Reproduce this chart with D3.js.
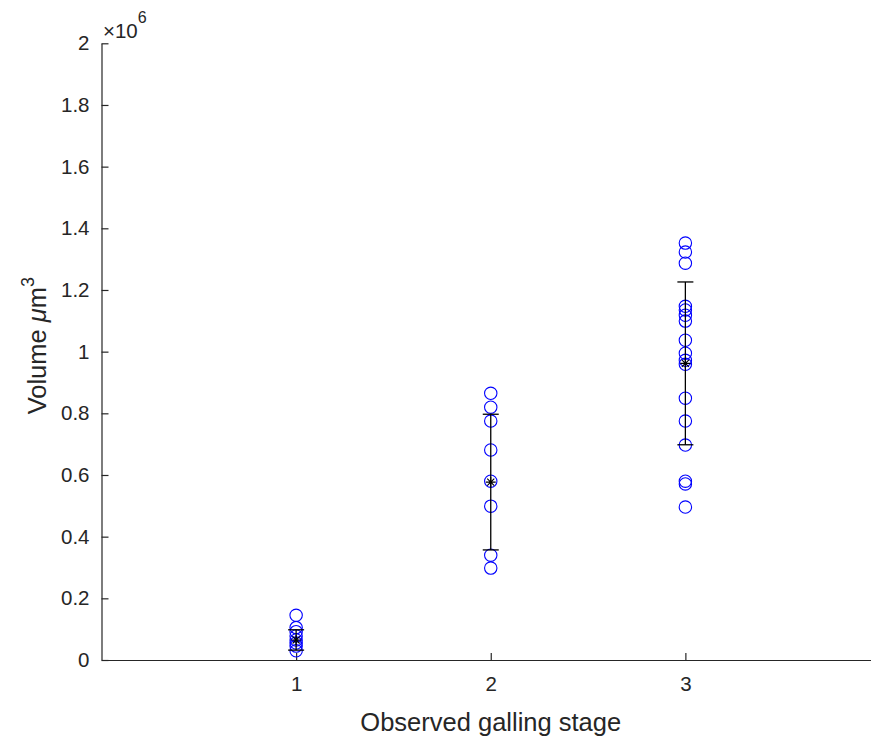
<!DOCTYPE html>
<html>
<head>
<meta charset="utf-8">
<script src="https://cdn.jsdelivr.net/npm/d3@7"></script>
<style>
    body { margin: 0; background: #fff; }
    text { font-family: "Liberation Sans", Arial, sans-serif; fill: #262626; }
</style>
</head>
<body>
<svg id="chart" width="871" height="738"></svg>
<script>
// galling stages on the x axis
const stages = [1, 2, 3];
const xTicks = [1, 2, 3];
const yTicks = [0, 0.2, 0.4, 0.6, 0.8, 1, 1.2, 1.4, 1.6, 1.8, 2];

const stage1Vol = [145000, 105000, 92000, 78000, 65000, 55000, 45000, 30000];
const stage2Vol = [865000, 820000, 775000, 681000, 580000, 499000, 340000, 298000];
const stage3Vol = [1352000, 1323000, 1287000, 1147000, 1135000, 1118000, 1099000, 1037000,
                   995000, 972000, 959000, 849000, 775000, 697000, 580000, 571000, 496000];

// mean and standard deviation drawn as error bars
const meanVol = [65000, 577000, 962000];
const sdVol   = [33000, 220000, 264000];

const width = 871
const height = 738
const axisColor = "#262626"

const svg = d3.select("#chart");

const x = d3.scaleLinear()
    .domain([0, 4])
    .range([101.5, 880]);

const y = d3.scaleLinear()
    .domain([0, 2e6])
    .range([660, 43.3]);

// AXES:
const yAxis = d3.axisLeft(y)
    .tickValues(yTicks.map(v => v * 1e6))
    .tickFormat(v => d3.format("~g")(v / 1e6))
    .tickSizeInner(-7)
    .tickSizeOuter(0)
    .tickPadding(12);

const xAxis = d3.axisBottom(x)
    .tickValues(xTicks)
    .tickFormat(d3.format("d"))
    .tickSizeInner(-7)
    .tickSizeOuter(0)
    .tickPadding(16);

const gy = svg.append("g")
    .attr("transform", `translate(${x(0)},0)`)
    .call(yAxis);

const gx = svg.append("g")
    .attr("transform", `translate(0,${y(0)})`)
    .call(xAxis);

[gx, gy].forEach(g => {
    g.select(".domain").attr("stroke", axisColor).attr("stroke-width", 1.2);
    g.selectAll(".tick line").attr("stroke", axisColor).attr("stroke-width", 1.2);
    g.selectAll(".tick text")
        .attr("fill", axisColor)
        .style("font-size", "20.5px")
        .style("font-family", "'Liberation Sans', Arial, sans-serif");
});

// exponent label at top of y axis
const expo = svg.append("text")
    .attr("x", 103)
    .attr("y", 38)
    .style("font-size", "20.5px");
expo.append("tspan").text("\u00d710");
expo.append("tspan")
    .attr("dy", -15)
    .style("font-size", "16px")
    .text("6");

// axis titles
svg.append("text")
    .attr("x", x(2))
    .attr("y", 731)
    .attr("text-anchor", "middle")
    .style("font-size", "25.5px")
    .text("Observed galling stage");

const yLabel = svg.append("text")
    .attr("transform", `translate(46,${(y(0) + y(2e6)) / 2 - 6}) rotate(-90)`)
    .attr("text-anchor", "middle")
    .style("font-size", "25.5px");
yLabel.append("tspan").text("Volume ");
yLabel.append("tspan").style("font-style", "italic").text("\u03bc");
yLabel.append("tspan").text("m");
yLabel.append("tspan")
    .attr("dy", -12)
    .style("font-size", "18px")
    .text("3");

// DATA POINTS:
const points = [];
[stage1Vol, stage2Vol, stage3Vol].forEach((vals, i) => {
    vals.forEach(v => points.push({ stage: stages[i], vol: v }));
});

svg.append("g")
    .selectAll("circle")
    .data(points)
    .enter()
    .append("circle")
        .attr("cx", d => x(d.stage))
        .attr("cy", d => y(d.vol))
        .attr("r", 6.2)
        .attr("fill", "none")
        .attr("stroke", "#0000ff")
        .attr("stroke-width", 1.1);

// ERROR BARS:
const bars = stages.map((s, i) => ({ stage: s, mean: meanVol[i], sd: sdVol[i] }));
const capW = 8;

const eb = svg.append("g")
    .selectAll("g")
    .data(bars)
    .enter()
    .append("g")
    .attr("stroke", "#000")
    .attr("stroke-width", 1.3);

eb.append("line")
    .attr("x1", d => x(d.stage))
    .attr("x2", d => x(d.stage))
    .attr("y1", d => y(d.mean - d.sd))
    .attr("y2", d => y(d.mean + d.sd));

eb.append("line")
    .attr("x1", d => x(d.stage) - capW)
    .attr("x2", d => x(d.stage) + capW)
    .attr("y1", d => y(d.mean + d.sd))
    .attr("y2", d => y(d.mean + d.sd));

eb.append("line")
    .attr("x1", d => x(d.stage) - capW)
    .attr("x2", d => x(d.stage) + capW)
    .attr("y1", d => y(d.mean - d.sd))
    .attr("y2", d => y(d.mean - d.sd));

// asterisk marker at the mean
eb.append("path")
    .attr("transform", d => `translate(${x(d.stage)},${y(d.mean)})`)
    .attr("d", () => {
        const r = 5;
        let p = "";
        [0, 45, 90, 135].forEach(a => {
            const dx = r * Math.cos(a * Math.PI / 180);
            const dy = r * Math.sin(a * Math.PI / 180);
            p += `M${-dx},${-dy}L${dx},${dy}`;
        });
        return p;
    })
    .attr("stroke-width", 1.1)
    .attr("fill", "none");
</script>
</body>
</html>
